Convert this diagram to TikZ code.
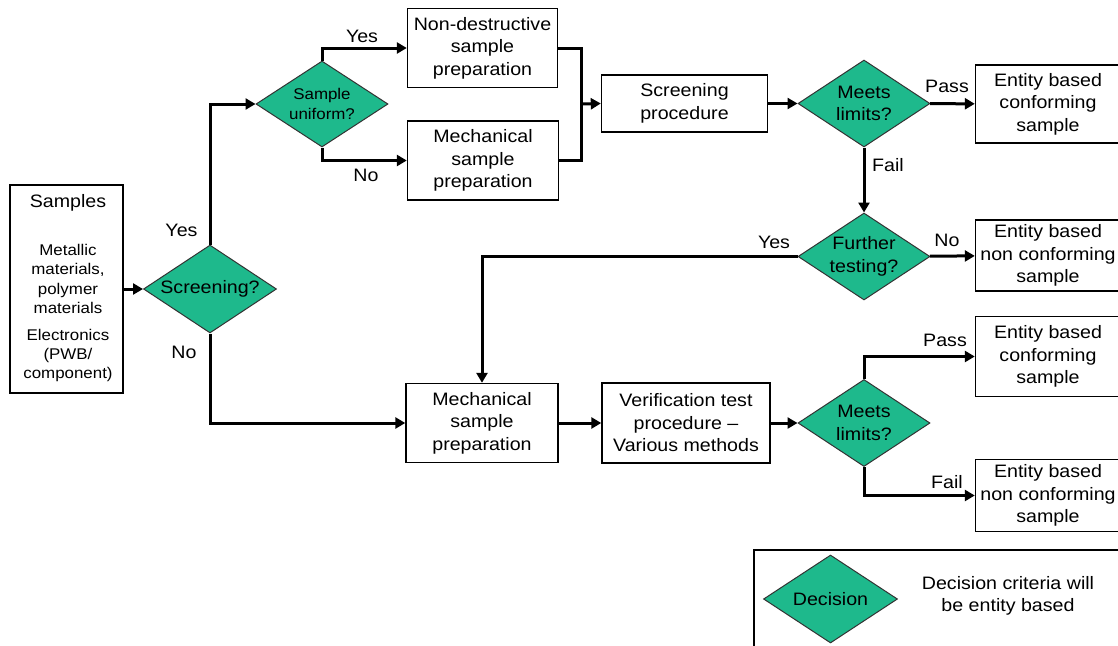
\documentclass[tikz,border=0pt]{standalone}
\usepackage{fontspec}
\setmainfont{Liberation Sans}[FakeStretch=1.09]
\usetikzlibrary{shapes.geometric,arrows.meta}

\definecolor{decgreen}{RGB}{30,185,140}

\newcommand{\mainsize}{\fontsize{18}{22.5}\selectfont}
\newcommand{\smallsize}{\fontsize{15.5}{19.3}\selectfont}

\begin{document}
\begin{tikzpicture}[x=1pt, y=-1pt,
    box/.style={draw, line width=1.4pt, fill=white, align=center, inner sep=0pt, font=\mainsize},
    decision/.style={diamond, draw=black!80, line width=1pt, fill=decgreen, inner sep=0pt, minimum width=132pt, minimum height=87pt},
    dtext/.style={align=center, inner sep=0pt, font=\mainsize},
    flow/.style={line width=3pt, -{Triangle[length=10pt, width=11pt]}},
    lbl/.style={inner sep=0pt, font=\mainsize}]

    \useasboundingbox (0,0) rectangle (1118,645);
    \fill[white] (0,0) rectangle (1118,645);
    \clip (0,0) rectangle (1118,645);

    % Samples
    \node[box, minimum width=113pt, minimum height=208pt] (samples) at (66.5,289) {};
    \node[dtext] (samplesT) at (68,203) {Samples};
    \node[dtext, font=\smallsize] (samplesM) at (68,279) {Metallic\\materials,\\polymer\\materials};
    \node[dtext, font=\smallsize] (samplesE) at (68,355.5) {Electronics\\(PWB/\\component)};

    % Decisions
    \node[decision, minimum width=133pt, minimum height=88pt, label={[dtext]center:Screening?}] (screening) at (210,289) {};
    \node[decision, minimum height=86pt, label={[dtext, font=\smallsize]center:Sample\\uniform?}] (uniform) at (322,104) {};
    \node[decision, label={[dtext]center:Meets\\limits?}] (meetsA) at (864,103.5) {};
    \node[decision, label={[dtext]center:Further\\testing?}] (further) at (864,256.5) {};
    \node[decision, label={[dtext]center:Meets\\limits?}] (meetsB) at (864,423) {};

    % Preparation and procedures
    \node[box, minimum width=150pt, minimum height=79pt] (nondes) at (482.5,48) {Non-destructive\\sample\\preparation};
    \node[box, minimum width=151pt, minimum height=79pt] (mechA) at (483,160.5) {Mechanical\\sample\\preparation};
    \node[box, minimum width=166pt, minimum height=57pt] (screenproc) at (684.5,103.5) {Screening\\procedure};
    \node[box, minimum width=152pt, minimum height=79pt] (mechB) at (482,423) {Mechanical\\sample\\preparation};
    \node[box, minimum width=168pt, minimum height=80pt] (verif) at (686,423) {Verification test\\procedure --\\Various methods};

    % Results
    \node[box, minimum width=145pt, minimum height=78pt] (confA) at (1048,104) {Entity based\\conforming\\sample};
    \node[box, minimum width=145pt, minimum height=71pt] (nonconfA) at (1048,255.5) {Entity based\\non conforming\\sample};
    \node[box, minimum width=145pt, minimum height=80pt] (confB) at (1048,356.5) {Entity based\\conforming\\sample};
    \node[box, minimum width=145pt, minimum height=72pt] (nonconfB) at (1048,495.5) {Entity based\\non conforming\\sample};

    % Legend
    \node[draw, line width=1.4pt, minimum width=376pt, minimum height=110pt, inner sep=0pt] (legend) at (942,605) {};
    \node[decision, minimum width=134pt, minimum height=88pt, label={[dtext]center:Decision}] (legdec) at (830.5,599) {};
    \node[dtext] (legtext) at (1008,596) {Decision criteria will\\be entity based};

    % Connectors
    \coordinate (join) at (581,104);
    \draw[flow] (samples.east) -- (screening.west);
    \draw[flow] (screening.north) |- (uniform.west);
    \draw[flow] (screening.south) |- (mechB.west);
    \draw[flow] (uniform.north) |- (nondes.west);
    \draw[flow] (uniform.south) |- (mechA.west);
    \draw[line width=3pt] (nondes.east) -| (join) |- (mechA.east);
    \draw[flow] (join) -- (screenproc.west);
    \draw[flow] (screenproc) -- (meetsA);
    \draw[flow] (meetsA) -- (confA);
    \draw[flow] (meetsA) -- (further);
    \draw[flow] (further) -- (nonconfA);
    \draw[flow] (further.west) -| (mechB.north);
    \draw[flow] (mechB) -- (verif);
    \draw[flow] (verif) -- (meetsB);
    \draw[flow] (meetsB.north) |- (confB.west);
    \draw[flow] (meetsB.south) |- (nonconfB.west);

    % Branch labels
    \node[lbl] (yesA) at (181.5,230) {Yes};
    \node[lbl] (noA) at (184,352.5) {No};
    \node[lbl] (yesB) at (362,36) {Yes};
    \node[lbl] (noB) at (366,175) {No};
    \node[lbl] (passA) at (947,86) {Pass};
    \node[lbl] (failA) at (888,165) {Fail};
    \node[lbl] (yesC) at (774,242) {Yes};
    \node[lbl] (noC) at (947,240) {No};
    \node[lbl] (passB) at (945,340) {Pass};
    \node[lbl] (failB) at (947,482) {Fail};

\end{tikzpicture}
\end{document}
